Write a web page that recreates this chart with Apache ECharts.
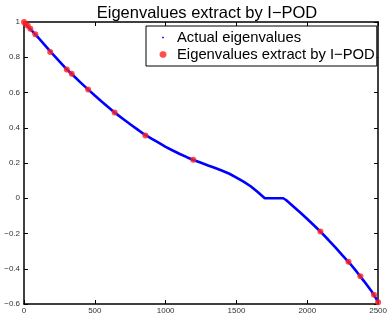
<!DOCTYPE html>
<html><head><meta charset="utf-8">
<script src="https://cdn.jsdelivr.net/npm/echarts@6/dist/echarts.min.js"></script>
<style>html,body{margin:0;padding:0;background:#fff}#c{width:390px;height:324px}</style>
</head><body><div id="c"></div>
<script>
var titleText = "Eigenvalues extract by I\u2212POD";
var seriesNames = ["Actual eigenvalues", "Eigenvalues extract by I\u2212POD"];
var xTicks = [0, 500, 1000, 1500, 2000, 2500];
var yTicks = [-0.6, -0.4, -0.2, 0, 0.2, 0.4, 0.6, 0.8, 1];
var actualX = [0,50,100,150,200,250,300,350,400,450,500,550,600,650,700,750,800,850,900,950,1000,1050,1100,1150,1200,1250,1300,1350,1400,1450,1500,1550,1600,1650,1700,1750,1800,1830,1850,1900,1950,2000,2050,2100,2150,2200,2250,2300,2350,2400,2450,2500];
var actualY = [1.000,0.955,0.912,0.866,0.820,0.776,0.733,0.695,0.656,0.619,0.583,0.548,0.514,0.480,0.450,0.420,0.391,0.362,0.338,0.315,0.292,0.271,0.251,0.233,0.216,0.201,0.186,0.172,0.156,0.139,0.117,0.094,0.068,0.035,0.000,0.000,0.000,0.000,-0.010,-0.045,-0.081,-0.118,-0.156,-0.195,-0.237,-0.280,-0.325,-0.369,-0.418,-0.470,-0.523,-0.588];
var extractX = [0,10,27,45,80,185,302,337,453,640,857,1195,2093,2291,2375,2471,2500];
var extractY = [1.000,0.990,0.979,0.962,0.930,0.830,0.731,0.706,0.617,0.486,0.356,0.218,-0.188,-0.360,-0.443,-0.548,-0.590];

function pairs(xs, ys){ return xs.map(function(x,i){return [x, ys[i]];}); }
function fmtY(v){
  var r = Math.round(v*10)/10;
  if (Math.abs(r) < 1e-9) return "0";
  var s = Math.abs(r).toString();
  return (r < 0 ? "\u2212" : "") + s;
}
function fmtX(v){ return String(Math.round(v)); }
var font = "Liberation Sans, Arial, Helvetica, sans-serif";
var blueIcon = 'path://M0,0L0.001,0L0,0.001Z M20,20L19.999,20L20,19.999Z M8.8,8.8L11.2,8.8L11.2,11.2L8.8,11.2Z';
var redIcon = 'path://M0,0L0.001,0L0,0.001Z M20,20L19.999,20L20,19.999Z M8,5.2L12,5.2L14.8,8L14.8,12L12,14.8L8,14.8L5.2,12L5.2,8Z';
var chart = echarts.init(document.getElementById('c'), null, {renderer:'canvas'});
var axisCommon = {
  axisLine:{show:true, onZero:false, lineStyle:{color:'#000', width:1.5}},
  axisTick:{show:true, inside:true, length:4, lineStyle:{color:'#000', width:1}},
  splitLine:{show:false}
};
chart.setOption({
  animation:false,
  backgroundColor:'#fff',
  title:{text:titleText, left:202, textAlign:'center', top:0, textStyle:{fontFamily:font, fontSize:16.5, fontWeight:'normal', color:'#000'}},
  grid:{left:24, right:9, top:22, bottom:20, containLabel:false},
  legend:{
    orient:'vertical', left:146, top:26,
    borderColor:'#000', borderWidth:1, padding:[4,2,4,10], itemGap:2,
    itemWidth:18, itemHeight:14, backgroundColor:'#fff',
    textStyle:{fontFamily:font, fontSize:14.8, color:'#000'},
    data:[{name:seriesNames[0], icon:blueIcon, itemStyle:{color:'#0000ff'}},{name:seriesNames[1], icon:redIcon, itemStyle:{color:'#ff2020'}}]
  },
  xAxis:[
    Object.assign({type:'value', min:xTicks[0], max:xTicks[xTicks.length-1], interval:500, position:'bottom',
      axisLabel:{fontFamily:font, fontSize:8, color:'#333', margin:3, showMaxLabel:true, formatter:fmtX}}, axisCommon),
    Object.assign({type:'value', min:xTicks[0], max:xTicks[xTicks.length-1], interval:500, position:'top',
      axisLabel:{show:false}}, axisCommon)
  ],
  yAxis:[
    Object.assign({type:'value', min:yTicks[0], max:yTicks[yTicks.length-1], interval:0.2, position:'left',
      axisLabel:{fontFamily:font, fontSize:8, color:'#333', margin:4, formatter:fmtY}}, axisCommon),
    Object.assign({type:'value', min:yTicks[0], max:yTicks[yTicks.length-1], interval:0.2, position:'right',
      axisLabel:{show:false}}, axisCommon)
  ],
  series:[
    {name:seriesNames[0], type:'line', data:pairs(actualX, actualY), showSymbol:false, symbol:'circle', symbolSize:2,
     smooth:false, lineStyle:{color:'#0000ff', width:2.6}, itemStyle:{color:'#0000ff'}, z:2},
    {name:seriesNames[1], type:'scatter', data:pairs(extractX, extractY), symbol:'circle', symbolSize:6,
     itemStyle:{color:'#ff2020'}, z:3}
  ]
});
</script></body></html>
